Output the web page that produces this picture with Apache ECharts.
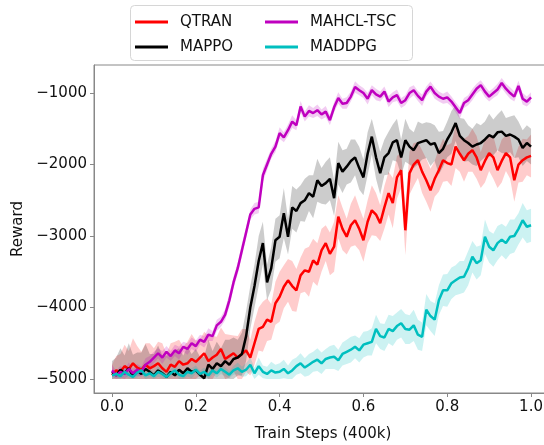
<!DOCTYPE html>
<html>
<head>
<meta charset="utf-8">
<script src="https://cdn.jsdelivr.net/npm/echarts@6/dist/echarts.min.js"></script>
<style>
  html, body { margin: 0; padding: 0; background: #fff; }
  #chart { width: 544px; height: 445px; }
</style>
</head>
<body>
<div id="chart"></div>
<script>
// mean reward per step (0.00 .. 1.00, step 0.01)
const meanQtran = [
  -4950, -4880, -4900, -4820, -4860, -4780, -4840, -4870, -4800, -4850,
  -4820, -4780, -4850, -4900, -4800, -4830, -4750, -4800, -4780, -4720,
  -4760, -4700, -4640, -4750, -4700, -4660, -4580, -4720, -4680, -4640,
  -4700, -4650, -4600, -4700, -4500, -4300, -4270, -4170, -4200, -3940,
  -3850, -3710, -3620, -3700, -3760, -3550, -3480, -3500, -3340, -3400,
  -3200, -3100, -3250, -3150, -2730, -2900, -3010, -2850, -2780, -2900,
  -3060, -2800, -2640, -2700, -2820, -2600, -2400, -2540, -2180, -2080,
  -2920, -2120, -2000, -1940, -2100, -2220, -2360, -2200, -2080, -1940,
  -1980, -2000, -1750, -1850, -1940, -1850, -1800, -1900, -2080, -1950,
  -1840, -1900, -2080, -1950, -1840, -1900, -2220, -2000, -1940, -1900,
  -1880
]
const meanMappo = [
  -4900, -4950, -4870, -4920, -4850, -4960, -4880, -4930, -4860, -4900,
  -4950, -4880, -4920, -4970, -4900, -4950, -4870, -4920, -4850, -4900,
  -4880, -4940, -4990, -4800, -4860, -4780, -4820, -4750, -4800, -4720,
  -4700, -4650, -4400, -4000, -3700, -3350, -3100, -3650, -3450, -3060,
  -3010, -2680, -3010, -2600, -2650, -2540, -2500, -2400, -2450, -2220,
  -2300, -2260, -2200, -2470, -1980, -2100, -2030, -1950, -1900, -2050,
  -2180, -1850, -1610, -1900, -2120, -1900, -1840, -1690, -1660, -1900,
  -1660, -1750, -1800, -1700, -1680, -1660, -1720, -1700, -1840, -1780,
  -1650, -1550, -1420, -1600, -1660, -1700, -1750, -1720, -1700, -1650,
  -1590, -1620, -1550, -1540, -1600, -1580, -1610, -1650, -1770, -1700,
  -1750
]
const meanMahcl = [
  -4880, -4950, -4900, -4930, -4860, -4920, -4870, -4900, -4800, -4760,
  -4700, -4640, -4700, -4620, -4680, -4600, -4640, -4550, -4580, -4500,
  -4540, -4450, -4480, -4380, -4400, -4250, -4200, -4100, -3900, -3650,
  -3450, -3200, -2950, -2700, -2620, -2600, -2150, -2000, -1850, -1750,
  -1560, -1620, -1520, -1400, -1450, -1190, -1330, -1250, -1280, -1240,
  -1300, -1260, -1380, -1200, -1070, -1150, -1140, -1050, -915, -960,
  -1000, -1080, -960, -1020, -1050, -980, -1120, -1060, -1030, -1140,
  -1100, -1000, -960, -1040, -1100, -980, -910, -1000, -1050, -1080,
  -1060, -1120, -1200, -1280, -1140, -1100, -1020, -940, -890, -980,
  -1050, -1000, -950, -860, -940, -1000, -1050, -900, -1080, -1120,
  -1060
]
const meanMaddpg = [
  -4950, -4930, -4960, -4900, -4940, -4970, -4910, -4880, -4950, -4920,
  -4960, -4900, -4930, -4970, -4920, -4880, -4940, -4960, -4900, -4920,
  -4870, -4930, -4900, -4950, -4880, -4920, -4860, -4900, -4940, -4880,
  -4850, -4900, -4870, -4800, -4920, -4820, -4900, -4930, -4880, -4910,
  -4900, -4860, -4920, -4880, -4820, -4780, -4840, -4800, -4760, -4730,
  -4780, -4720, -4700, -4690, -4740, -4650, -4620, -4590, -4550, -4600,
  -4520, -4500, -4480, -4300, -4400, -4420, -4300, -4330, -4260, -4220,
  -4300, -4310, -4250, -4380, -4410, -4030, -4120, -4170, -3900, -3760,
  -3760, -3660, -3620, -3580, -3570, -3450, -3290, -3380, -3340, -3010,
  -3150, -3200, -3100, -3050, -3100, -3010, -3000, -2900, -2780, -2870,
  -2850
]

// half width of the shaded band
const bandQtran = [
  150, 200, 250, 300, 250, 350, 300, 250, 300, 350,
  250, 300, 350, 250, 300, 350, 300, 250, 300, 350,
  300, 250, 300, 350, 300, 250, 300, 350, 300, 250,
  300, 350, 300, 250, 300, 300, 350, 300, 250, 300,
  350, 300, 300, 350, 300, 250, 300, 350, 300, 300,
  300, 250, 300, 350, 300, 300, 250, 300, 350, 300,
  300, 300, 350, 300, 250, 300, 300, 350, 300, 250,
  350, 300, 300, 250, 300, 300, 300, 250, 300, 300,
  250, 300, 300, 250, 300, 250, 300, 300, 250, 300,
  250, 300, 250, 300, 250, 300, 300, 250, 300, 250,
  300
]
const bandMappo = [
  150, 250, 300, 250, 350, 300, 250, 300, 350, 250,
  300, 350, 250, 300, 250, 350, 300, 250, 300, 250,
  300, 250, 300, 350, 250, 300, 250, 300, 350, 300,
  250, 300, 350, 300, 300, 350, 300, 250, 300, 300,
  300, 350, 250, 300, 300, 250, 300, 250, 300, 300,
  250, 300, 300, 250, 300, 300, 250, 300, 250, 300,
  250, 300, 250, 300, 300, 250, 300, 250, 300, 250,
  300, 250, 250, 300, 250, 250, 300, 250, 300, 250,
  250, 300, 250, 250, 300, 250, 250, 300, 250, 250,
  300, 250, 250, 300, 250, 250, 300, 250, 250, 250,
  250
]
const bandMahcl = [
  80, 60, 80, 70, 90, 60, 80, 70, 90, 80,
  80, 70, 90, 80, 70, 80, 90, 70, 80, 80,
  80, 70, 80, 90, 70, 80, 70, 80, 90, 80,
  80, 90, 80, 70, 80, 80, 90, 80, 70, 80,
  80, 70, 80, 90, 70, 80, 70, 80, 70, 80,
  70, 80, 70, 70, 80, 70, 80, 70, 80, 70,
  70, 80, 70, 80, 70, 70, 80, 70, 80, 70,
  70, 80, 70, 70, 80, 70, 70, 80, 70, 70,
  80, 70, 70, 80, 70, 70, 80, 70, 70, 80,
  70, 70, 80, 70, 70, 80, 70, 70, 80, 70,
  70
]
const bandMaddpg = [
  60, 50, 70, 60, 50, 60, 70, 60, 50, 60,
  60, 70, 60, 50, 60, 70, 60, 50, 60, 70,
  60, 50, 60, 70, 60, 60, 70, 60, 50, 60,
  80, 70, 90, 100, 80, 120, 90, 100, 120, 110,
  120, 130, 110, 150, 120, 140, 130, 150, 140, 160,
  150, 140, 160, 170, 150, 160, 170, 180, 160, 170,
  180, 170, 190, 200, 180, 190, 200, 210, 190, 200,
  210, 200, 220, 210, 200, 220, 210, 230, 210, 220,
  230, 220, 210, 230, 220, 240, 220, 230, 210, 240,
  220, 230, 240, 220, 230, 240, 230, 220, 240, 230,
  230
]

const xTicks = [0, 0.2, 0.4, 0.6, 0.8, 1.0]
const yTicks = [-5000, -4000, -3000, -2000, -1000]

const names = ['QTRAN', 'MAPPO', 'MAHCL-TSC', 'MADDPG']
const colors = ['#ff0000', '#000000', '#bf00bf', '#00bfbf']
const bandColors = ['rgba(255,0,0,0.2)', 'rgba(0,0,0,0.2)', 'rgba(191,0,191,0.2)', 'rgba(0,191,191,0.2)']
const means = [meanQtran, meanMappo, meanMahcl, meanMaddpg]
const bands = [bandQtran, bandMappo, bandMahcl, bandMaddpg]
const REWARD_FLOOR = -5000

const steps = meanQtran.map((_, i) => i / 100)
const font = 'DejaVu Sans'
const minus = (v) => String(v).replace('-', '\u2212')

function bandSeries(idx) {
  const mean = means[idx]
  const band = bands[idx]
  const data = mean.map((m, i) => [steps[i], Math.max(m - band[i], REWARD_FLOOR), m + band[i]])
  return {
    name: names[idx] + ' band',
    type: 'custom',
    data: data,
    encode: { x: 0, y: [1, 2] },
    silent: true,
    z: 1,
    renderItem: (params, api) => {
      if (params.dataIndex !== 0) return
      const upper = data.map((d) => api.coord([d[0], d[2]]))
      const lower = data.map((d) => api.coord([d[0], d[1]])).reverse()
      return {
        type: 'polygon',
        shape: { points: upper.concat(lower) },
        style: { fill: bandColors[idx], stroke: null },
      }
    },
  }
}

function lineSeries(idx) {
  return {
    name: names[idx],
    type: 'line',
    data: means[idx].map((m, i) => [steps[i], m]),
    showSymbol: false,
    color: colors[idx],
    lineStyle: { color: colors[idx], width: 2.5 },
    z: 3 + idx,
  }
}

const series = []
for (let i = 0; i < names.length; i++) {
  series.push(bandSeries(i))
  series.push(lineSeries(i))
}

const legendBase = {
  orient: 'vertical',
  top: 13,
  padding: 0,
  itemGap: 7,
  itemWidth: 33,
  itemHeight: 3,
  icon: 'rect',
  z: 10,
  selectedMode: false,
  textStyle: { fontFamily: font, fontSize: 15, color: '#111', lineHeight: 18, padding: [0, 0, 0, 7] },
}

const chart = echarts.init(document.getElementById('chart'))
chart.setOption({
  animation: false,
  backgroundColor: '#fff',
  grid: {
    left: 94,
    right: -8,
    top: 65,
    bottom: 52,
    outerBoundsMode: 'none',
    show: true,
    borderColor: '#888',
    borderWidth: 1,
  },
  legend: [
    Object.assign({}, legendBase, { left: 135, data: ['QTRAN', 'MAPPO'] }),
    Object.assign({}, legendBase, { left: 265, data: ['MAHCL-TSC', 'MADDPG'] }),
  ],
  graphic: [
    {
      type: 'rect',
      left: 130,
      top: 5,
      shape: { width: 282, height: 55, r: 4 },
      style: { fill: '#fff', stroke: '#d6d6d6', lineWidth: 1 },
      z: 0,
    },
  ],
  xAxis: {
    type: 'value',
    min: -0.043,
    max: 1.05,
    name: 'Train Steps (400k)',
    nameLocation: 'middle',
    nameGap: 34,
    nameTextStyle: { fontFamily: font, fontSize: 15, color: '#111' },
    axisLine: { show: true, onZero: false, lineStyle: { color: '#888' } },
    axisTick: { show: true, length: 4, customValues: xTicks, lineStyle: { color: '#888' } },
    axisLabel: {
      customValues: xTicks,
      margin: 7,
      fontFamily: font,
      fontSize: 15,
      color: '#111',
      formatter: (v) => v.toFixed(1),
    },
    splitLine: { show: false },
  },
  yAxis: {
    type: 'value',
    min: -5196,
    max: -608,
    name: 'Reward',
    nameLocation: 'middle',
    nameGap: 59,
    nameTextStyle: { fontFamily: font, fontSize: 15, color: '#111' },
    axisLine: { show: true, onZero: false, lineStyle: { color: '#888' } },
    axisTick: { show: true, length: 4, customValues: yTicks, lineStyle: { color: '#888' } },
    axisLabel: {
      customValues: yTicks,
      margin: 7,
      fontFamily: font,
      fontSize: 15,
      color: '#111',
      formatter: minus,
    },
    splitLine: { show: false },
  },
  series: series,
})
</script>
</body>
</html>
